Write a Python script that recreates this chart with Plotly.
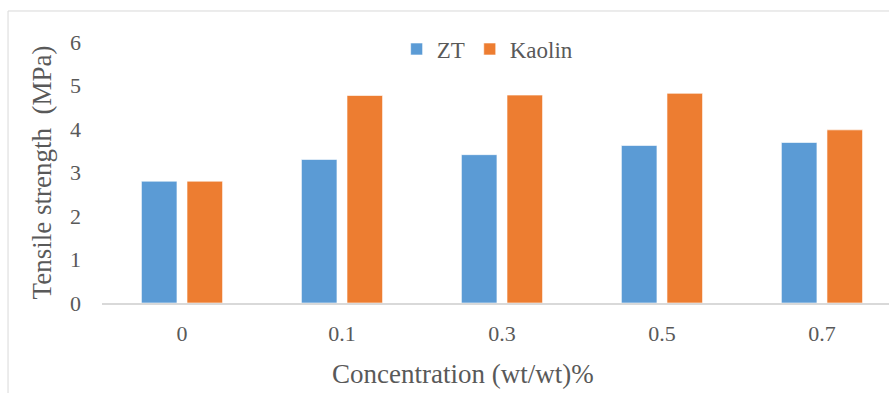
import plotly.graph_objects as go

# Tensile strength of samples at each filler concentration
concentrations = ["0", "0.1", "0.3", "0.5", "0.7"]
zt_strength = [2.80, 3.30, 3.41, 3.62, 3.69]
kaolin_strength = [2.80, 4.77, 4.78, 4.82, 3.98]

BLUE = "#5B9BD5"
ORANGE = "#ED7D31"
TEXT = "#595959"
FONT = "Liberation Serif"

fig = go.Figure()
fig.add_trace(go.Bar(
    name="ZT", x=concentrations, y=zt_strength,
    marker=dict(color=BLUE, line=dict(color="rgba(255,255,255,0.6)", width=1)),
))
fig.add_trace(go.Bar(
    name="Kaolin", x=concentrations, y=kaolin_strength,
    marker=dict(color=ORANGE, line=dict(color="rgba(255,255,255,0.6)", width=1)),
))

fig.update_layout(
    width=889, height=393,
    margin=dict(l=102, r=0, t=42, b=90),
    paper_bgcolor="white", plot_bgcolor="white",
    barmode="group", bargap=0.43, bargroupgap=0.22,
    font=dict(family=FONT, color=TEXT, size=22),
    showlegend=True,
    legend=dict(
        orientation="h", x=0.49, xanchor="center", y=0.973, yanchor="middle",
        font=dict(family=FONT, size=23, color=TEXT),
        itemwidth=30, tracegroupgap=0, bgcolor="rgba(0,0,0,0)",
    ),
    xaxis=dict(
        type="category", range=[-0.5, 4.419],
        showgrid=False, zeroline=False,
        showline=True, linecolor="#D9D9D9", linewidth=1.5,
        ticks="", ticklabelstandoff=10,
        tickfont=dict(family=FONT, size=22, color=TEXT),
    ),
    yaxis=dict(
        range=[0, 6], dtick=1,
        showgrid=False, zeroline=False, showline=False,
        ticks="", ticklabelstandoff=20,
        tickfont=dict(family=FONT, size=22, color=TEXT),
        title=dict(text="Tensile strength  (MPa)", standoff=10,
                   font=dict(family=FONT, size=27, color=TEXT)),
    ),
    annotations=[
        # x-axis title, set slightly left of the plot-area centre
        dict(text="Concentration (wt/wt)%", xref="paper", yref="paper",
             x=0.4587, y=-0.272, xanchor="center", yanchor="middle",
             showarrow=False, font=dict(family=FONT, size=27, color=TEXT)),
    ],
    shapes=[
        # light chart-area border along the top and left edges
        dict(type="line", xref="paper", yref="paper",
             x0=-0.1194, x1=1.02, y0=1.1188, y1=1.1188,
             line=dict(color="#D9D9D9", width=1)),
        dict(type="line", xref="paper", yref="paper",
             x0=-0.1194, x1=-0.1194, y0=1.1188, y1=-0.4,
             line=dict(color="#D9D9D9", width=1)),
    ],
)

fig.write_html("out.html")
